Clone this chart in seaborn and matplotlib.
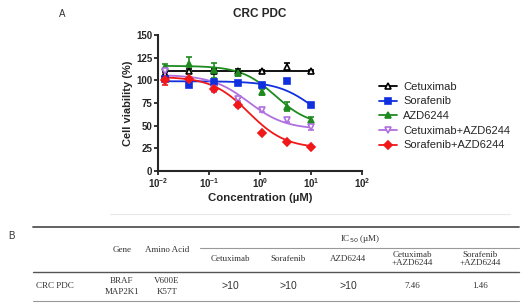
import numpy as np
import pandas as pd
import matplotlib
matplotlib.use("Agg")
import matplotlib.pyplot as plt
import seaborn as sns
from matplotlib.lines import Line2D

# concentrations (uM), 3-fold dilution
conc = [0.0137, 0.041, 0.123, 0.37, 1.11, 3.33, 10.0]

drugs = ["Cetuximab", "Sorafenib", "AZD6244", "Cetuximab+AZD6244", "Sorafenib+AZD6244"]

# mean cell viability (%)
cetuximab = [107, 110, 110, 110, 110, 115, 110]
sorafenib = [101, 95, 98, 97, 95, 99, 73]
azd6244 = [115, 118, 111, 108, 87, 71, 56]
cetux_azd = [110, 100, 90, 79, 67, 56, 48]
soraf_azd = [100, 101, 90, 73, 42, 32, 27]

# error (SD)
err_cetuximab = [2, 2, 2, 2, 1, 4, 1]
err_sorafenib = [2, 2, 2, 2, 1, 2, 2]
err_azd6244 = [3, 8, 8, 3, 3, 5, 4]
err_cetux_azd = [3, 2, 3, 2, 2, 2, 3]
err_soraf_azd = [5, 2, 2, 2, 1, 1, 1]

# 4PL fit parameters: top, bottom, EC50, hill
fit_params = {
    "Cetuximab": [110, 110, 1.0, 1.0],
    "Sorafenib": [99, 40, 12.0, 1.2],
    "AZD6244": [116, 50, 2.0, 1.3],
    "Cetuximab+AZD6244": [106, 46, 0.6, 1.2],
    "Sorafenib+AZD6244": [104, 25, 0.6, 1.2],
}

# IC50 table
row_name = "CRC PDC"
genes = ["BRAF", "MAP2K1"]
amino = ["V600E", "K57T"]
ic50_headers = ["Cetuximab", "Sorafenib", "AZD6244", "Cetuximab\n+AZD6244", "Sorafenib\n+AZD6244"]
ic50_values = [">10", ">10", ">10", "7.46", "1.46"]

means = [cetuximab, sorafenib, azd6244, cetux_azd, soraf_azd]
errs = [err_cetuximab, err_sorafenib, err_azd6244, err_cetux_azd, err_soraf_azd]
colors = ["#000000", "#1030e0", "#1f8a1f", "#b070e0", "#f01818"]
markers = ["^", "s", "^", "v", "D"]
fills = ["none", "full", "full", "none", "full"]
msizes = [5, 4.5, 5, 5, 4]

sns.set_style("ticks")
plt.rcParams['font.family'] = ['Liberation Sans', 'DejaVu Sans']

fig = plt.figure(figsize=(5.31, 3.07), dpi=100)
ax = fig.add_axes([0.2976, 0.443, 0.384, 0.443])

xfit = np.logspace(np.log10(conc[0]), np.log10(conc[-1]), 200)
rows = []
for d in drugs:
    top, bot, ec, h = fit_params[d]
    yfit = bot + (top - bot) / (1 + (xfit / ec) ** h)
    rows.append(pd.DataFrame({"conc": xfit, "viab": yfit, "drug": d}))
curves = pd.concat(rows)

sns.lineplot(data=curves, x="conc", y="viab", hue="drug", palette=dict(zip(drugs, colors)),
             linewidth=1.3, legend=False, ax=ax)

handles = []
for d, m, e, c, mk, f, ms in zip(drugs, means, errs, colors, markers, fills, msizes):
    ax.errorbar(conc, m, yerr=e, fmt=mk, color=c, mfc=c if f == "full" else "white",
                mec=c, mew=1.2, ms=ms, capsize=2.5, elinewidth=1.2, capthick=1.2, zorder=3)
    handles.append(Line2D([0], [0], color=c, marker=mk, mfc=c if f == "full" else "white",
                          mec=c, mew=1.2, ms=ms, lw=1.3))

ax.set_xscale("log")
ax.set_xlim(0.01, 100)
ax.set_ylim(0, 150)
ax.set_yticks([0, 25, 50, 75, 100, 125, 150])
ax.set_xticks([0.01, 0.1, 1, 10, 100])
ax.minorticks_off()
ax.xaxis.set_minor_locator(matplotlib.ticker.NullLocator())
for s in ["top", "right"]:
    ax.spines[s].set_visible(False)
for s in ["left", "bottom"]:
    ax.spines[s].set_linewidth(1.5)
ax.tick_params(width=1.3, length=3, labelsize=7, pad=1)
for lab in ax.get_xticklabels() + ax.get_yticklabels():
    lab.set_fontweight("bold")
ax.set_xlabel("Concentration (µM)", fontsize=8.2, fontweight="bold", labelpad=2)
ax.set_ylabel("Cell viability (%)", fontsize=8, fontweight="bold", labelpad=2)
ax.set_title("CRC PDC", fontsize=8.5, fontweight="bold", pad=13)

fig.legend(handles, drugs, loc="upper left", bbox_to_anchor=(0.705, 0.748), frameon=False,
           fontsize=8, handlelength=1.6, labelspacing=0.42, borderaxespad=0, handletextpad=0.6)

fig.text(0.117, 0.955, "A", fontsize=7, va="center", ha="center", color="#333333")
fig.text(0.022, 0.23, "B", fontsize=7, va="center", ha="center", color="#333333")

# faint separator line
fig.add_artist(Line2D([110 / 531, 510 / 531], [1 - 214 / 307] * 2, color="#e8e8e8", lw=0.8))

# table lines
def hline(x0, x1, ypix, lw, col="#555555"):
    fig.add_artist(Line2D([x0 / 531, x1 / 531], [1 - ypix / 307] * 2, color=col, lw=lw))

hline(33, 519, 227, 1.3)
hline(200, 519, 248, 0.8, "#999999")
hline(33, 519, 272, 1.0)
hline(33, 519, 301, 0.8, "#999999")

serif = ['Liberation Serif', 'DejaVu Serif']
tcol = "#333333"

def ftext(xp, yp, s, **kw):
    fig.text(xp / 531, 1 - yp / 307, s, ha="center", va="center", color=tcol,
             family=kw.pop("family", serif), fontsize=kw.pop("fontsize", 6.5), **kw)

ftext(122, 250, "Gene")
ftext(167, 250, "Amino Acid")
ftext(360, 239, "IC$_{50}$ (µM)")
col_x = [230, 288, 348, 412, 480]
for xp, h in zip(col_x, ic50_headers):
    ftext(xp, 259, h, linespacing=1.05)
ftext(55, 286, row_name)
ftext(122, 281, genes[0])
ftext(122, 292, genes[1])
ftext(167, 281, amino[0])
ftext(167, 292, amino[1])
for xp, v in zip(col_x, ic50_values):
    if v.startswith(">"):
        ftext(xp, 286, v, family=['Liberation Sans', 'DejaVu Sans'], fontsize=7.5)
    else:
        ftext(xp, 286, v)

fig.savefig("out.png", dpi=100)
